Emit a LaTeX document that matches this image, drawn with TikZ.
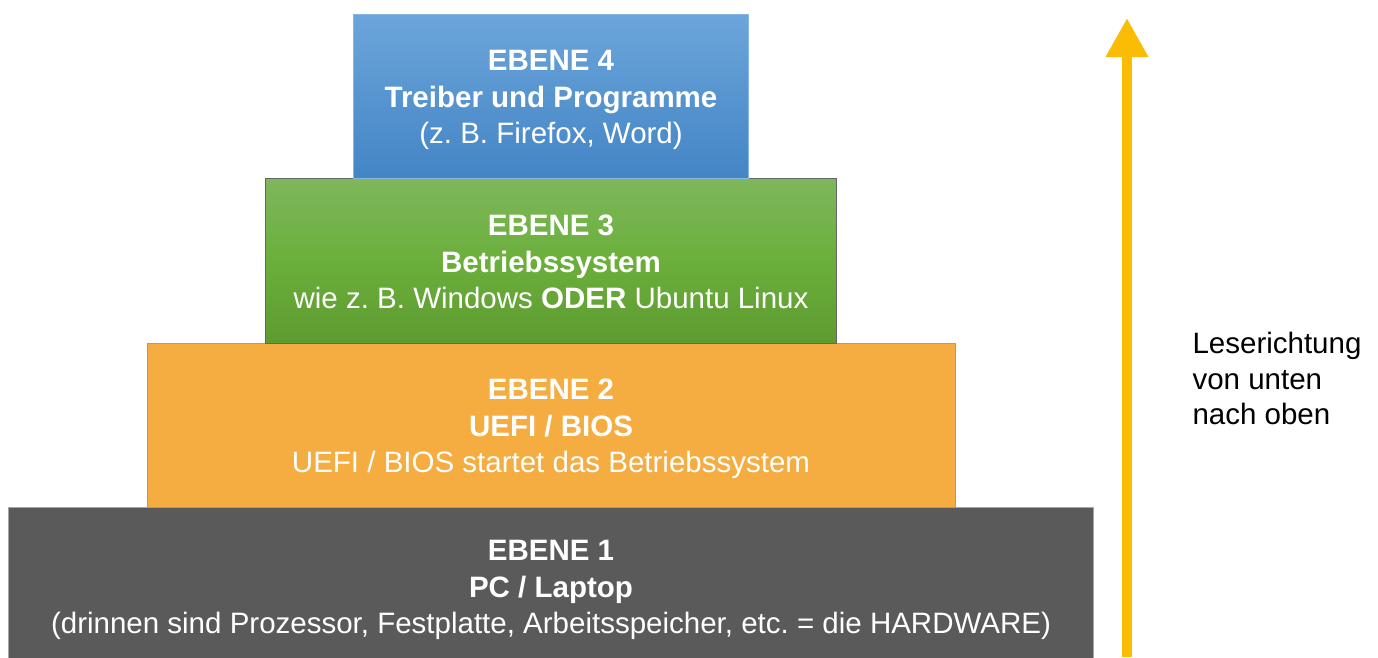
\documentclass[tikz,border=0pt]{standalone}
\usepackage{fontspec}
\setmainfont{Liberation Sans}
\frenchspacing
\usetikzlibrary{arrows.meta}
\definecolor{blueTop}{HTML}{6CA5DA}
\definecolor{blueBot}{HTML}{4385C6}
\definecolor{greenTop}{HTML}{7EB75C}
\definecolor{greenMid}{HTML}{6BAF3B}
\definecolor{greenBot}{HTML}{5E9B31}
\definecolor{orangeFill}{HTML}{F5AC40}
\definecolor{orangeLine}{HTML}{D6952F}
\definecolor{grayFill}{HTML}{5A5A5A}
\definecolor{arrowYellow}{HTML}{FBBC05}
\tikzset{
  layer/.style={rectangle, inner sep=0pt, outer sep=0pt, line width=1pt},
  layertext/.style={text=white, align=center, font=\fontsize{29.5}{36.5}\selectfont},
}
\begin{document}
\begin{tikzpicture}[x=1pt, y=-1pt]
\useasboundingbox (0,0) rectangle (1378,657);
% pyramid layers, bottom to top
\node[layer, draw=gray!70, fill=grayFill, minimum width=1085pt, minimum height=160pt] (l1) at (550.5,587) {};
\node[layer, draw=orangeLine, fill=orangeFill, minimum width=808pt, minimum height=164pt] (l2) at (551,425) {};
\node[layer, draw=black!60, top color=greenTop, bottom color=greenBot, middle color=greenMid, minimum width=571pt, minimum height=165pt] (l3) at (550.5,260.5) {};
\node[layer, draw=blueTop!80, top color=blueTop, bottom color=blueBot, minimum width=395pt, minimum height=164pt] (l4) at (550.5,96) {};
% labels
\node[layertext] (t1) at (551,590) {\textbf{EBENE 1}\\\textbf{PC / Laptop}\\(drinnen sind Prozessor, Festplatte, Arbeitsspeicher, etc. = die HARDWARE)};
\node[layertext] (t2) at (551,429) {\textbf{EBENE 2}\\\textbf{UEFI / BIOS}\\UEFI / BIOS startet das Betriebssystem};
\node[layertext] (t3) at (551,262) {\textbf{EBENE 3}\\\textbf{Betriebssystem}\\wie z. B. Windows \textbf{ODER} Ubuntu Linux};
\node[layertext] (t4) at (551,100) {\textbf{EBENE 4}\\\textbf{Treiber und Programme}\\(z. B. Firefox, Word)};
% reading direction
\coordinate (abottom) at (1127,657);
\coordinate (atop) at (1127,18);
\draw[arrowYellow, line width=10pt, -{Triangle[width=40pt,length=39pt]}] (abottom) -- (atop);
\node[anchor=west, align=left, text=black, font=\fontsize{29.5}{35.5}\selectfont] (lese) at (1189,378.5) {Leserichtung\\von unten\\nach oben};
\end{tikzpicture}
\end{document}
